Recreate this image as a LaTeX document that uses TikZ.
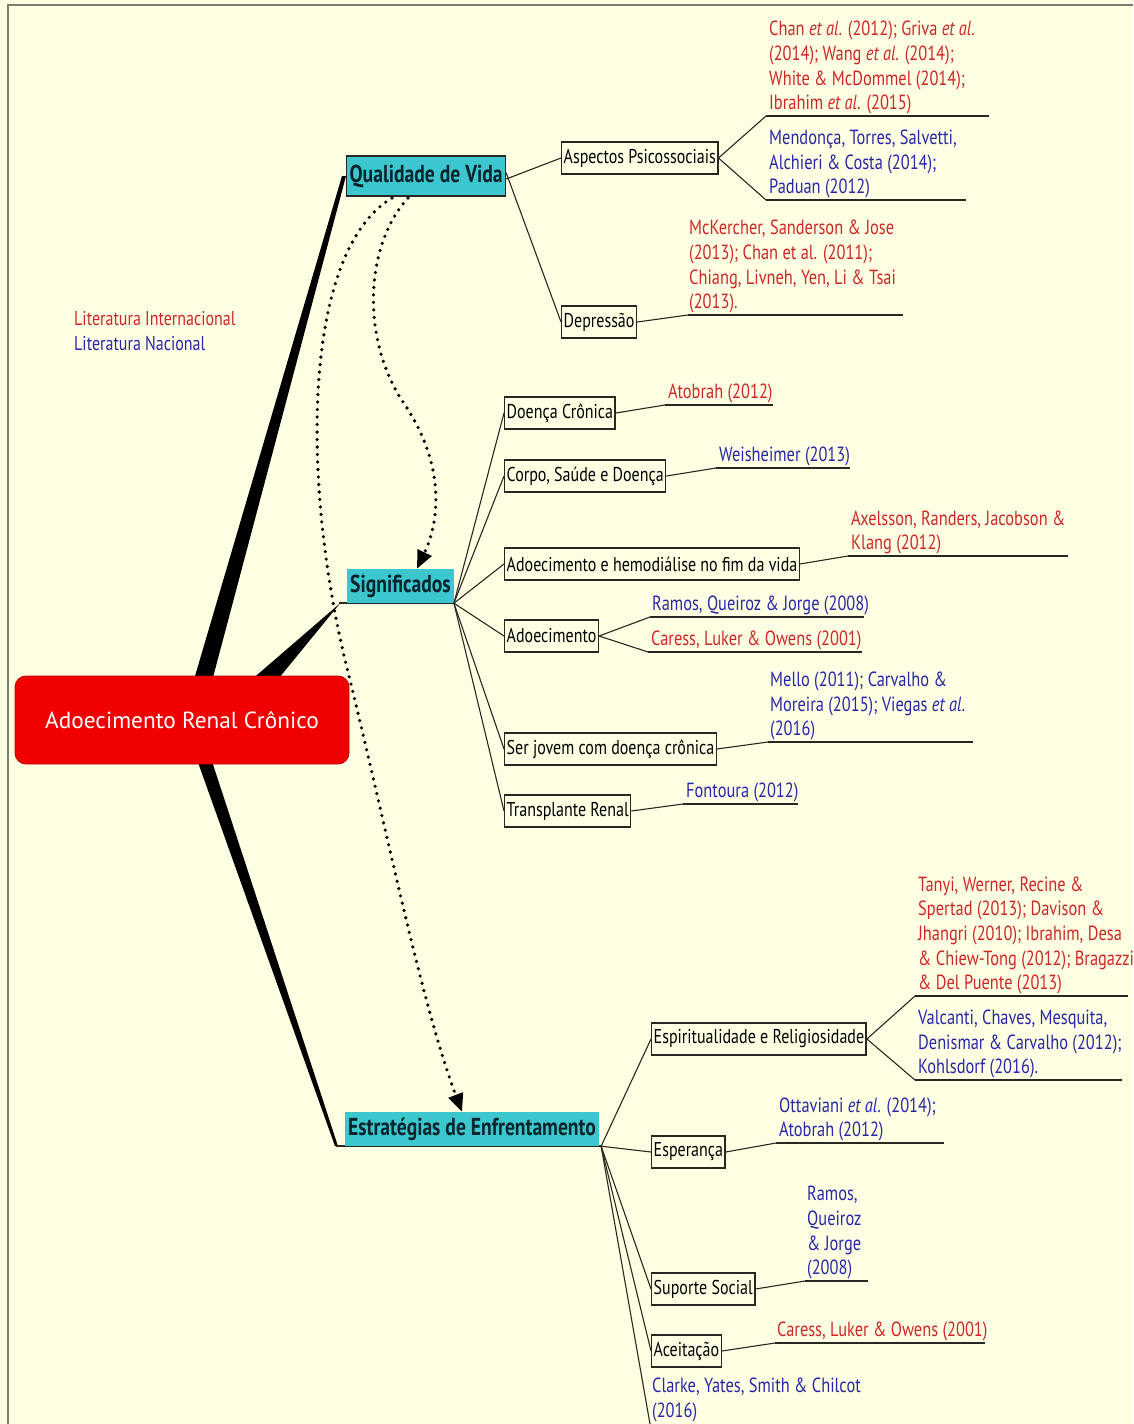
\documentclass[tikz,border=0pt]{standalone}
\usepackage{fontspec}
\setmainfont{PT Sans}[FakeStretch=0.8]
\newfontfamily\rootfont{PT Sans}
\usetikzlibrary{arrows.meta,backgrounds,calc}
\definecolor{bg}{RGB}{255,255,228}
\definecolor{cyanbox}{RGB}{60,198,205}
\definecolor{topictext}{RGB}{10,36,45}
\definecolor{citered}{RGB}{205,40,40}
\definecolor{citeblue}{RGB}{40,40,165}
\definecolor{linecol}{RGB}{40,40,35}
\definecolor{framecol}{RGB}{125,125,110}
\definecolor{rootred}{RGB}{240,0,0}
\begin{document}
\begin{tikzpicture}[x=1pt,y=-1pt,
  subbox/.style={draw=linecol, line width=1.4pt, fill=bg, inner xsep=2pt, inner ysep=0pt,
    minimum height=32pt, font=\fontsize{20}{23}\selectfont, anchor=west},
  topic/.style={fill=cyanbox, font=\bfseries\fontsize{24.5}{27}\selectfont, text=topictext,
    inner xsep=3pt, inner ysep=0pt, minimum height=34pt, anchor=west},
  cite/.style={font=\fontsize{20.5}{24.7}\selectfont, align=left, anchor=south west, inner sep=0pt},
  legend/.style={anchor=west, font=\fontsize{20}{24}\selectfont, inner sep=0pt},
  conn/.style={draw=linecol, line width=1.1pt},
  uline/.style={draw=linecol, line width=1.6pt},
  dotarrow/.style={draw=black, line width=3.6pt, dash pattern=on 0pt off 7.5pt, line cap=round,
    -{Triangle[length=18pt,width=15pt]}},
]
\useasboundingbox (0,0) rectangle (1133,1424);

% ---------- nodes ----------
\node[fill=rootred, draw=red!75!black, line width=0.8pt, rounded corners=11pt, minimum width=334pt,
  minimum height=88pt, text=white, font=\rootfont\fontsize{23.3}{28}\selectfont] (root) at (182,720) {Adoecimento Renal Crônico};

\node[topic, draw=linecol, line width=1.2pt, minimum height=40pt] (qdv) at (346,176) {Qualidade de Vida};
\node[topic] (sig) at (347,586) {Significados};
\node[topic] (est) at (345,1129) {Estratégias de Enfrentamento};

\node[legend, text=citered] (leg1) at (74,319) {Literatura Internacional};
\node[legend, text=citeblue] (leg2) at (74,344) {Literatura Nacional};

% QdV children
\node[subbox] (asp) at (561,158) {Aspectos Psicossociais};
\node[subbox] (dep) at (561,322) {Depressão};
% Significados children
\node[subbox] (dc) at (504,413) {Doença Crônica};
\node[subbox] (csd) at (504,476) {Corpo, Saúde e Doença};
\node[subbox] (ahf) at (504,564) {Adoecimento e hemodiálise no fim da vida};
\node[subbox] (ado) at (504,636) {Adoecimento};
\node[subbox] (sj) at (504,749) {Ser jovem com doença crônica};
\node[subbox] (tr) at (504,811) {Transplante Renal};
% Estrategias children
\node[subbox] (esp) at (651,1039) {Espiritualidade e Religiosidade};
\node[subbox] (espz) at (651,1152) {Esperança};
\node[subbox] (sup) at (651,1289) {Suporte Social};
\node[subbox] (ace) at (651,1351) {Aceitação};

% ---------- citation anchors ----------
\coordinate (c1) at (766,116);  \coordinate (c1e) at (989,116);
\coordinate (c2) at (766,200);  \coordinate (c2e) at (966,200);
\coordinate (c3) at (688,315);  \coordinate (c3e) at (903,315);
\coordinate (c4) at (665,405);  \coordinate (c4e) at (773,405);
\coordinate (c5) at (716,468);  \coordinate (c5e) at (850,468);
\coordinate (c6) at (848,556);  \coordinate (c6e) at (1068,556);
\coordinate (c7) at (650,617);  \coordinate (c7e) at (864,617);
\coordinate (c8) at (648,652);  \coordinate (c8e) at (862,652);
\coordinate (c9) at (768,742);  \coordinate (c9e) at (973,742);
\coordinate (c10) at (683,804); \coordinate (c10e) at (798,804);
\coordinate (c11) at (915,996); \coordinate (c11e) at (1128,996);
\coordinate (c12) at (915,1080); \coordinate (c12e) at (1122,1080);
\coordinate (c13) at (776,1143); \coordinate (c13e) at (944,1143);
\coordinate (c14) at (805,1281); \coordinate (c14e) at (868,1281);
\coordinate (c15) at (775,1343); \coordinate (c15e) at (985,1343);
\coordinate (bot) at (650,1424);

\node[cite, text=citered] (t1) at ($(c1)+(3,-1.5)$) {Chan \textit{et al}. (2012); Griva \textit{et al}.\\(2014); Wang \textit{et al}. (2014);\\White \& McDommel (2014);\\Ibrahim \textit{et al}. (2015)};
\node[cite, text=citeblue] (t2) at ($(c2)+(3,-1.5)$) {Mendonça, Torres, Salvetti,\\Alchieri \& Costa (2014);\\Paduan (2012)};
\node[cite, text=citered] (t3) at ($(c3)+(1,-1.5)$) {McKercher, Sanderson \& Jose\\(2013); Chan et al. (2011);\\Chiang, Livneh, Yen, Li \& Tsai\\(2013).};
\node[cite, text=citered] (t4) at ($(c4)+(3,-1.5)$) {Atobrah (2012)};
\node[cite, text=citeblue] (t5) at ($(c5)+(3,-1.5)$) {Weisheimer (2013)};
\node[cite, text=citered] (t6) at ($(c6)+(3,-1.5)$) {Axelsson, Randers, Jacobson \&\\Klang (2012)};
\node[cite, text=citeblue] (t7) at ($(c7)+(2,-1.5)$) {Ramos, Queiroz \& Jorge (2008)};
\node[cite, text=citered] (t8) at ($(c8)+(3,-1.5)$) {Caress, Luker \& Owens (2001)};
\node[cite, text=citeblue] (t9) at ($(c9)+(2,-1.5)$) {Mello (2011); Carvalho \&\\Moreira (2015); Viegas \textit{et al}.\\(2016)};
\node[cite, text=citeblue] (t10) at ($(c10)+(3,-1.5)$) {Fontoura (2012)};
\node[cite, text=citered] (t11) at ($(c11)+(3,-1.5)$) {Tanyi, Werner, Recine \&\\Spertad (2013); Davison \&\\Jhangri (2010); Ibrahim, Desa\\\& Chiew-Tong (2012); Bragazzi\\\& Del Puente (2013)};
\node[cite, text=citeblue] (t12) at ($(c12)+(3,-1.5)$) {Valcanti, Chaves, Mesquita,\\Denismar \& Carvalho (2012);\\Kohlsdorf (2016).};
\node[cite, text=citeblue] (t13) at ($(c13)+(3,-1.5)$) {Ottaviani \textit{et al}. (2014);\\Atobrah (2012)};
\node[cite, text=citeblue] (t14) at ($(c14)+(2,-1.5)$) {Ramos,\\Queiroz\\\& Jorge\\(2008)};
\node[cite, text=citered] (t15) at ($(c15)+(2,-1.5)$) {Caress, Luker \& Owens (2001)};
\node[cite, text=citeblue] (t16) at (652,1422) {Clarke, Yates, Smith \& Chilcot\\(2016)};

% ---------- connectors ----------
\draw[conn] ([yshift=-3pt]qdv.east) -- (asp.west);
\draw[conn] ([yshift=3pt]qdv.east) -- (dep.west);

\coordinate (sighub) at (sig.south east);
\foreach \n in {dc,csd,ahf,ado,sj,tr} \draw[conn] (sighub) -- (\n.west);
\coordinate (esthub) at ([xshift=2pt]est.south east);
\foreach \n in {esp,espz,sup,ace} \draw[conn] (esthub) -- (\n.west);
\draw[conn] (esthub) -- (bot);

\draw[conn] (asp.east) -- (c1); \draw[uline] (c1) -- (c1e);
\draw[conn] (asp.east) -- (c2); \draw[uline] (c2) -- (c2e);
\draw[conn] (dep.east) -- (c3); \draw[uline] (c3) -- (c3e);
\draw[conn] (dc.east) -- (c4); \draw[uline] (c4) -- (c4e);
\draw[conn] (csd.east) -- (c5); \draw[uline] (c5) -- (c5e);
\draw[conn] (ahf.east) -- (c6); \draw[uline] (c6) -- (c6e);
\draw[conn] (ado.east) -- (c7); \draw[uline] (c7) -- (c7e);
\draw[conn] (ado.east) -- (c8); \draw[uline] (c8) -- (c8e);
\draw[conn] (sj.east) -- (c9); \draw[uline] (c9) -- (c9e);
\draw[conn] (tr.east) -- (c10); \draw[uline] (c10) -- (c10e);
\draw[conn] (esp.east) -- (c11); \draw[uline] (c11) -- (c11e);
\draw[conn] (esp.east) -- (c12); \draw[uline] (c12) -- (c12e);
\draw[conn] (espz.east) -- (c13); \draw[uline] (c13) -- (c13e);
\draw[conn] (sup.east) -- (c14); \draw[uline] (c14) -- (c14e);
\draw[conn] (ace.east) -- (c15); \draw[uline] (c15) -- (c15e);

% dotted arrows
\draw[dotarrow] (408,198) .. controls (365,245) and (360,340) .. (405,405)
   .. controls (445,465) and (440,520) .. (sig.north -| 417,0);
\draw[dotarrow] (392,198) .. controls (305,250) and (300,470) .. (345,660)
   .. controls (385,820) and (420,1000) .. (est.north -| 462,0);

% ---------- background layer ----------
\begin{pgfonlayer}{background}
  \fill[bg] (0,0) rectangle (1133,1424);
  \draw[framecol, line width=2pt] (8,1424) -- (8,5) -- (1133,5);
  % tapered main branches
  \fill[black] (188,700) -- (207,700) -- (qdv.west) -- ([xshift=-4pt]qdv.west) -- cycle;
  \coordinate (sigj) at ([xshift=-8pt]sig.south west);
  \fill[black] (228,700) -- (261,700) -- ([yshift=1pt,xshift=2pt]sigj) -- ([yshift=-1pt]sigj) -- cycle;
  \draw[conn, line width=1.6pt] (sigj) -- (sig.south east);
  \coordinate (estj) at ([xshift=-9pt]est.south west);
  \fill[black] (190,740) -- (205,740) -- ([xshift=2pt]estj) -- ([xshift=-1pt]estj) -- cycle;
  \draw[conn, line width=1.6pt] (estj) -- (esthub);
\end{pgfonlayer}
\end{tikzpicture}
\end{document}
